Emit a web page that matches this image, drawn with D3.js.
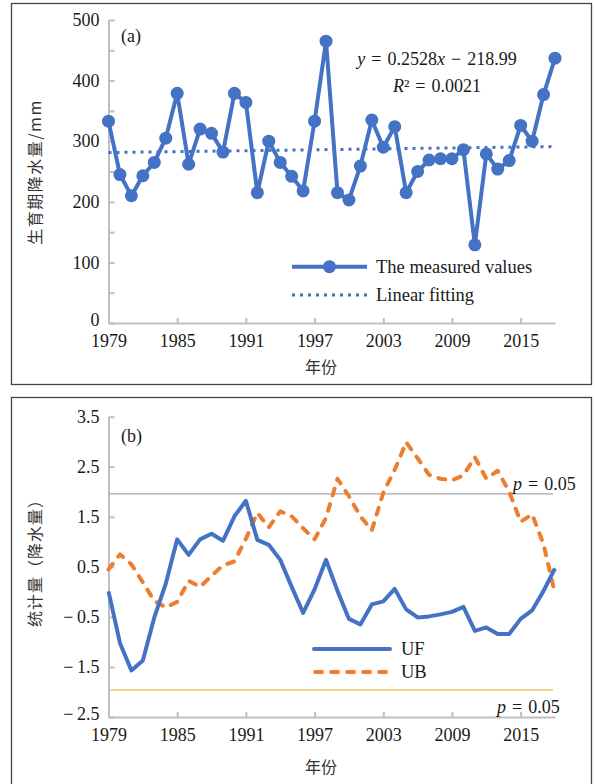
<!DOCTYPE html>
<html>
<head>
<meta charset="utf-8">
<script src="https://cdn.jsdelivr.net/npm/d3@7"></script>
<style>
  body { margin: 0; background: #fff; }
  svg text { font-family: "Liberation Serif", "DejaVu Serif", "Times New Roman", serif; }
  svg text.cjk { font-family: "Noto Sans CJK SC", "Noto Sans CJK JP", sans-serif; }
</style>
</head>
<body>
<svg id="canvas" width="595" height="784"></svg>
<script>
// data
var years = [1979,1980,1981,1982,1983,1984,1985,1986,1987,1988,1989,1990,1991,1992,1993,1994,1995,1996,1997,1998,
             1999,2000,2001,2002,2003,2004,2005,2006,2007,2008,2009,2010,2011,2012,2013,2014,2015,2016,2017,2018];
var precip = [333,245,210,243,265,305,379,262,320,313,282,379,364,215,300,265,242,218,333,465,
              215,203,259,335,290,324,215,250,269,271,271,286,129,279,254,268,326,300,377,437];
var trendSlope = 0.2528, trendIntercept = -218.99;
var uf = [0.01,-1.02,-1.57,-1.37,-0.51,0.16,1.05,0.74,1.05,1.16,1.02,1.51,1.82,1.04,0.94,0.64,0.10,-0.42,0.05,0.64,
          0.02,-0.54,-0.65,-0.25,-0.19,0.06,-0.35,-0.51,-0.49,-0.45,-0.40,-0.30,-0.78,-0.71,-0.84,-0.84,-0.54,-0.37,0.02,0.47];
var ub = [0.45,0.75,0.55,0.19,-0.18,-0.31,-0.20,0.22,0.10,0.32,0.53,0.61,1.06,1.58,1.29,1.61,1.51,1.27,1.05,1.48,
          2.26,1.91,1.51,1.23,1.98,2.44,2.99,2.67,2.34,2.26,2.23,2.33,2.69,2.26,2.42,2.00,1.40,1.55,0.95,-0.03];
var xTicks = [1979,1985,1991,1997,2003,2009,2015];
var topTicks = [0,50,100,150,200,250,300,350,400,450,500];
var botTicks = [-2.5,-1.5,-0.5,0.5,1.5,2.5,3.5];
var critical = 1.96;

var blue = "#4472c4", orange = "#ed7d31";
var serif = "'Liberation Serif', 'DejaVu Serif', serif";
var fs = 18;
var canvas = d3.select("#canvas");

// frames
canvas.append("rect").attr("x",11.5).attr("y",3.5).attr("width",580).attr("height",381)
  .attr("fill","none").attr("stroke","#444").attr("stroke-width",1.3);
canvas.append("rect").attr("x",11.5).attr("y",397.5).attr("width",580).attr("height",400)
  .attr("fill","none").attr("stroke","#444").attr("stroke-width",1.3);

var x = d3.scaleLinear().domain([1979,2018]).range([108.5,555]);
var yA = d3.scaleLinear().domain([0,500]).range([323,20]);
var yB = d3.scaleLinear().domain([-2.5,3.5]).range([717,416.7]);

function fmtNum(d) {
  return d < 0 ? "\u2212\u2009" + Math.abs(d) : String(d);
}
function styleAxis(g) {
  g.attr("font-family", serif);
  g.selectAll("path, line").attr("stroke","#bfbfbf").attr("stroke-width",2);
  g.selectAll("text").style("font-family",serif).attr("font-size",fs).attr("fill","#1a1a1a");
}
function sText(sel) {
  return sel.style("font-family", serif).attr("font-size",fs).attr("fill","#1a1a1a");
}
// lowest y label sits a touch higher so it clears the year labels
function liftBottom(minVal) {
  return function(g) {
    g.selectAll(".tick text").filter(function(d){ return d === minVal; }).attr("dy","0.12em");
  };
}

// ---------- panel (a) ----------
canvas.append("g").attr("transform","translate(108.5,0)")
  .call(d3.axisLeft(yA).tickValues(topTicks).tickSize(-6).tickSizeOuter(0).tickPadding(9)
    .tickFormat(function(d){ return d % 100 === 0 ? d : ""; }))
  .call(styleAxis).call(liftBottom(0));
canvas.append("g").attr("transform","translate(0,323)")
  .call(d3.axisBottom(x).tickValues(xTicks).tickSize(-5).tickSizeOuter(0).tickPadding(11)
    .tickFormat(d3.format("d")))
  .call(styleAxis);

// trend line
canvas.append("line")
  .attr("x1",x(years[0])).attr("x2",x(years[years.length-1]))
  .attr("y1",yA(trendSlope*years[0]+trendIntercept))
  .attr("y2",yA(trendSlope*years[years.length-1]+trendIntercept))
  .attr("stroke",blue).attr("stroke-width",3).attr("stroke-dasharray","3,5");

var lineA = d3.line().x(function(d,i){ return x(years[i]); }).y(function(d){ return yA(d); });
canvas.append("path").datum(precip).attr("d",lineA)
  .attr("fill","none").attr("stroke",blue).attr("stroke-width",4).attr("stroke-linejoin","round");
canvas.append("g").selectAll("circle").data(precip).enter().append("circle")
  .attr("cx",function(d,i){ return x(years[i]); })
  .attr("cy",function(d){ return yA(d); })
  .attr("r",6.5).attr("fill",blue);

sText(canvas.append("text")).attr("x",121).attr("y",42).text("(a)");

var eq = sText(canvas.append("text")).attr("x",437).attr("y",65).attr("text-anchor","middle");
eq.append("tspan").attr("font-style","italic").text("y");
eq.append("tspan").text("\u2004=\u20040.2528");
eq.append("tspan").attr("font-style","italic").text("x");
eq.append("tspan").text("\u2004\u2212\u2004218.99");
var r2 = sText(canvas.append("text")).attr("x",437).attr("y",92).attr("text-anchor","middle");
r2.append("tspan").attr("font-style","italic").text("R");
r2.append("tspan").text("\u00b2\u2004=\u20040.0021");

// legend (a)
canvas.append("line").attr("x1",292).attr("x2",367).attr("y1",266.7).attr("y2",266.7)
  .attr("stroke",blue).attr("stroke-width",4);
canvas.append("circle").attr("cx",329.5).attr("cy",266.7).attr("r",6.5).attr("fill",blue);
sText(canvas.append("text")).attr("x",376).attr("y",266.7).attr("dy","0.35em").attr("font-size",18.5)
  .text("The measured values");
canvas.append("line").attr("x1",292).attr("x2",367).attr("y1",295).attr("y2",295)
  .attr("stroke",blue).attr("stroke-width",3).attr("stroke-dasharray","3,5");
sText(canvas.append("text")).attr("x",376).attr("y",295).attr("dy","0.35em").attr("font-size",18.5)
  .text("Linear fitting");

canvas.append("text").attr("class","cjk").attr("font-size",16).attr("fill","#333")
  .attr("text-anchor","middle").attr("letter-spacing",1.5)
  .attr("transform","translate(41,172) rotate(-90)").text("生育期降水量/mm");
canvas.append("text").attr("class","cjk").attr("font-size",16).attr("fill","#333")
  .attr("text-anchor","middle").attr("x",321).attr("y",373).text("年份");

// ---------- panel (b) ----------
canvas.append("g").attr("transform","translate(108.5,0)")
  .call(d3.axisLeft(yB).tickValues(botTicks).tickSize(-6).tickSizeOuter(0).tickPadding(9)
    .tickFormat(fmtNum))
  .call(styleAxis).call(liftBottom(-2.5));
canvas.append("g").attr("transform","translate(0,717)")
  .call(d3.axisBottom(x).tickValues(xTicks).tickSize(-5).tickSizeOuter(0).tickPadding(11)
    .tickFormat(d3.format("d")))
  .call(styleAxis);

canvas.append("line").attr("x1",109.5).attr("x2",553).attr("y1",yB(critical)).attr("y2",yB(critical))
  .attr("stroke","#a6a6a6").attr("stroke-width",1.3);
canvas.append("line").attr("x1",109.5).attr("x2",553).attr("y1",yB(-critical)).attr("y2",yB(-critical))
  .attr("stroke","#f7c667").attr("stroke-width",1.6);

var pUp = sText(canvas.append("text")).attr("x",513).attr("y",490);
pUp.append("tspan").attr("font-style","italic").text("p");
pUp.append("tspan").text("\u2004=\u20040.05");
var pDn = sText(canvas.append("text")).attr("x",497).attr("y",713);
pDn.append("tspan").attr("font-style","italic").text("p");
pDn.append("tspan").text("\u2004=\u20040.05");

var lineB = d3.line().x(function(d,i){ return x(years[i]); }).y(function(d){ return yB(d); });
canvas.append("path").datum(ub).attr("d",lineB)
  .attr("fill","none").attr("stroke",orange).attr("stroke-width",4)
  .attr("stroke-dasharray","7,9").attr("stroke-linecap","round").attr("stroke-linejoin","round");
canvas.append("path").datum(uf).attr("d",lineB)
  .attr("fill","none").attr("stroke",blue).attr("stroke-width",4).attr("stroke-linejoin","round");

sText(canvas.append("text")).attr("x",121).attr("y",442).text("(b)");

// legend (b)
canvas.append("line").attr("x1",314).attr("x2",390).attr("y1",649).attr("y2",649)
  .attr("stroke",blue).attr("stroke-width",4).attr("stroke-linecap","round");
sText(canvas.append("text")).attr("x",401).attr("y",649).attr("dy","0.35em").attr("font-size",18.5).text("UF");
canvas.append("line").attr("x1",315).attr("x2",390).attr("y1",672).attr("y2",672)
  .attr("stroke",orange).attr("stroke-width",4).attr("stroke-dasharray","7,9").attr("stroke-linecap","round");
sText(canvas.append("text")).attr("x",401).attr("y",672).attr("dy","0.35em").attr("font-size",18.5).text("UB");

canvas.append("text").attr("class","cjk").attr("font-size",16).attr("fill","#333")
  .attr("text-anchor","middle").attr("letter-spacing",1)
  .attr("transform","translate(41,559) rotate(-90)").text("统计量（降水量）");
canvas.append("text").attr("class","cjk").attr("font-size",16).attr("fill","#333")
  .attr("text-anchor","middle").attr("x",321).attr("y",773).text("年份");
</script>
</body>
</html>
